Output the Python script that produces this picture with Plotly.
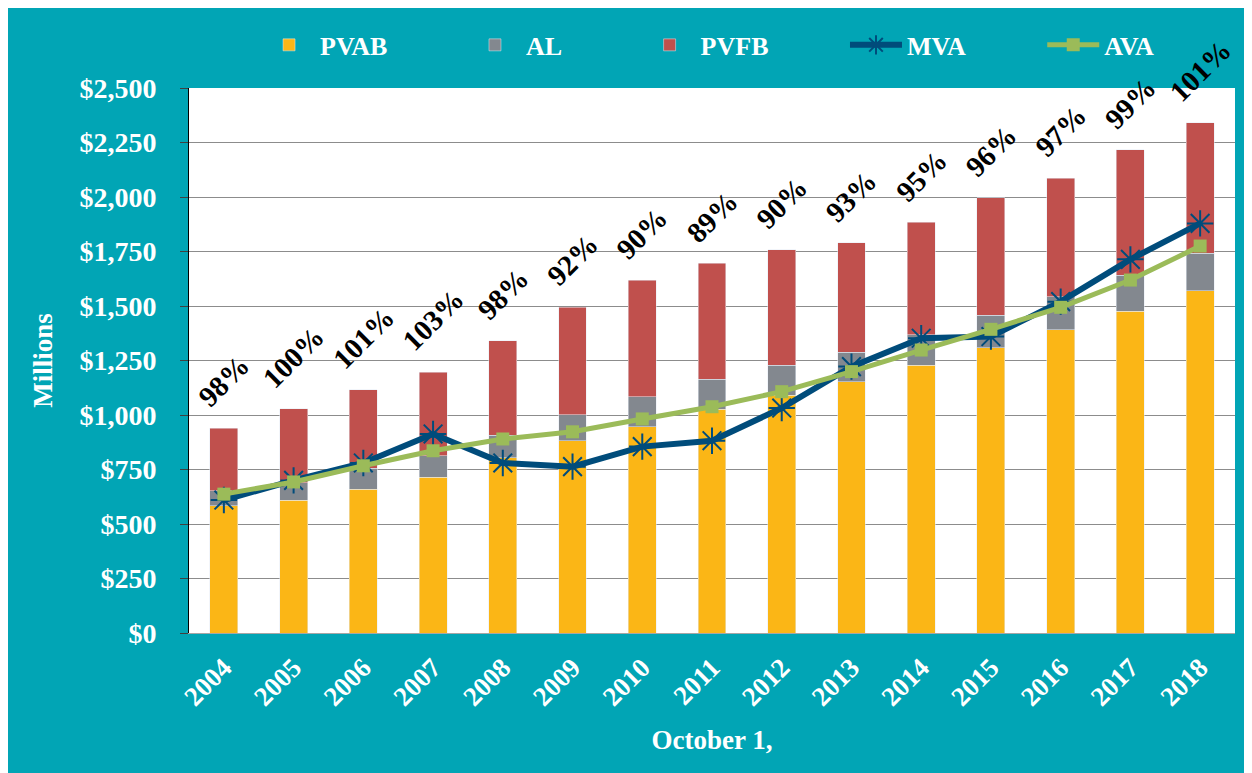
import plotly.graph_objects as go

years = ["2004", "2005", "2006", "2007", "2008", "2009", "2010", "2011",
         "2012", "2013", "2014", "2015", "2016", "2017", "2018"]
pvab = [583, 610, 660, 715, 803, 882, 946, 1027, 1090, 1153, 1229, 1309, 1390, 1477, 1570]
al = [653, 690, 755, 812, 908, 1001, 1083, 1165, 1228, 1288, 1367, 1457, 1543, 1642, 1742]
pvfb = [940, 1028, 1116, 1197, 1341, 1495, 1619, 1696, 1757, 1790, 1884, 1997, 2087, 2217, 2341]
mva = [610, 700, 780, 913, 780, 763, 855, 882, 1032, 1222, 1352, 1360, 1520, 1714, 1879]
ava = [637, 693, 767, 836, 890, 923, 982, 1038, 1107, 1199, 1298, 1393, 1494, 1619, 1775]
funded = ["98%", "100%", "101%", "103%", "98%", "92%", "90%", "89%",
          "90%", "93%", "95%", "96%", "97%", "99%", "101%"]

al_seg = [a - p for a, p in zip(al, pvab)]
pvfb_seg = [f - a for f, a in zip(pvfb, al)]

TEAL = "#01A5B5"
FONT = "Liberation Serif"
PAD = "\u00a0" * 11

fig = go.Figure()
fig.add_trace(go.Bar(x=years, y=pvab, name="PVAB" + PAD, marker_color="#FBB616"))
fig.add_trace(go.Bar(x=years, y=al_seg, name="AL" + PAD, marker_color="#83888F"))
fig.add_trace(go.Bar(x=years, y=pvfb_seg, name="PVFB" + PAD, marker_color="#C0504D"))
fig.add_trace(go.Scatter(x=years, y=mva, name="MVA" + PAD, mode="lines+markers",
                         line=dict(color="#004C7B", width=6),
                         marker=dict(symbol="asterisk-open", size=22,
                                     line=dict(color="#004C7B", width=2))))
fig.add_trace(go.Scatter(x=years, y=ava, name="AVA", mode="lines+markers",
                         line=dict(color="#9BBB59", width=5),
                         marker=dict(symbol="square", size=13, color="#9BBB59")))

# category axes: annotation x is the category index
for i, (tot, lab) in enumerate(zip(pvfb, funded)):
    fig.add_annotation(x=i, y=tot, text="<b>" + lab + "</b>", showarrow=False,
                       textangle=-45, xanchor="center", yanchor="bottom", yshift=12,
                       font=dict(family=FONT, size=29, color="black"))

fig.update_layout(
    width=1252, height=773,
    margin=dict(l=181, r=25, t=80, b=148),
    paper_bgcolor=TEAL,
    plot_bgcolor="white",
    barmode="stack",
    bargap=0.6,
    font=dict(family=FONT, color="white", size=26),
    showlegend=True,
    legend=dict(orientation="h", x=0.066, y=1.079, xanchor="left", yanchor="middle",
                bgcolor="rgba(0,0,0,0)", itemwidth=52,
                font=dict(family=FONT, size=26, color="white", weight="bold"),
                traceorder="normal"),
)

fig.update_yaxes(range=[0, 2500], dtick=250, tickprefix="$", tickformat=",d",
                 showgrid=True, gridcolor="#8C8C8C", gridwidth=1,
                 showline=True, linecolor="black", linewidth=1,
                 ticks="outside", ticklen=8, tickcolor="#404040",
                 ticklabelstandoff=18,
                 tickfont=dict(family=FONT, size=28, color="white", weight="bold"),
                 title=dict(text="<b>Millions</b>", standoff=18,
                            font=dict(family=FONT, size=27, color="white")),
                 zeroline=False)
fig.update_xaxes(type="category", range=[-0.5, 14.5], autorange=False,
                 showline=True, linecolor="#A6A6A6", linewidth=1,
                 tickangle=-45, ticks="outside", ticklen=7, tickcolor="rgba(0,0,0,0)",
                 tickfont=dict(family=FONT, size=27, color="white", weight="bold"),
                 title=dict(text="<b>October 1,</b>", standoff=19,
                            font=dict(family=FONT, size=27, color="white")))

fig.write_html("out.html")
